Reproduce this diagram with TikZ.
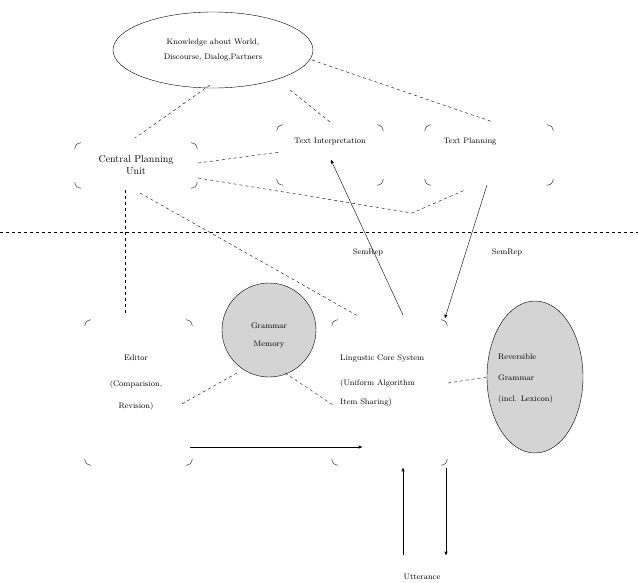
\documentclass[tikz,border=0pt]{standalone}
\usetikzlibrary{calc,positioning,arrows,shapes.geometric}
\tikzset{
	unit/.style={inner sep=0pt, align=center, font=\footnotesize},
	blob/.style={ellipse, draw, fill=black!17, inner sep=0pt},
	link/.style={dashed, thin},
	flow/.style={->, >=stealth', thin}
}
% draws only the four rounded corners of a box node
\newcommand{\corners}[1]{%
	\draw ($(#1.north west)+(0,-6)$) arc[start angle=180,end angle=90,radius=6];
	\draw ($(#1.north east)+(-6,0)$) arc[start angle=90,end angle=0,radius=6];
	\draw ($(#1.south east)+(0,6)$) arc[start angle=0,end angle=-90,radius=6];
	\draw ($(#1.south west)+(6,0)$) arc[start angle=-90,end angle=-180,radius=6];
}
\begin{document}
\begin{tikzpicture}[x=1pt,y=1pt]
	\useasboundingbox (0,0) rectangle (638,-582);
	%Boxes
	%===========================================================
	\node[unit, minimum width=122, minimum height=45, font=\normalsize] (cpu) at (136,-165.5) {Central Planning\\Unit};
	\node[unit, minimum width=106, minimum height=60] (interp) at (330,-155) {};
	\node[unit, minimum width=128, minimum height=60] (plan) at (489,-155) {};
	\node[unit, minimum width=107, minimum height=145] (editor) at (138.5,-392.5) {};
	\node[unit, minimum width=115, minimum height=145] (core) at (389.5,-392.5) {};
	\corners{cpu} \corners{interp} \corners{plan} \corners{editor} \corners{core}
	\node[unit] at (330,-142) {Text Interpretation};
	\node[unit] at (470,-142) {Text Planning};
	\node[unit] at (136,-358) {Editor};
	\node[unit] at (136,-384) {(Comparision,};
	\node[unit] at (136,-406) {Revision)};
	\node[unit, anchor=west] at (340,-358) {Lingustic Core System};
	\node[unit, anchor=west] at (340,-383) {(Uniform Algorithm};
	\node[unit, anchor=west] at (340,-402) {Item Sharing)};
	
	%Ellipses
	\node[ellipse, draw, minimum width=200, minimum height=76, unit] (know) at (213,-50) {Knowledge about World,\\[6pt]Discourse, Dialog,Partners};
	\node[blob, minimum width=94, minimum height=94] (gmem) at (269,-330) {};
	\node[unit] at (269,-326) {Grammar}; \node[unit] at (269,-345) {Memory};
	\node[blob, minimum width=96, minimum height=152] (revg) at (535,-377) {};
	\node[unit, anchor=west] at (498,-357) {Reversible};
	\node[unit, anchor=west] at (498,-378) {Grammar};
	\node[unit, anchor=west] at (498,-399) {(incl. Lexicon)};
	
	%Separator
	\draw[link] (0,-232) -- (638,-232);
	
	%Dashed links
	\coordinate (kink) at (412,-213);
	\draw[link] (210,-85) -- (135,-138);
	\draw[link] (290,-90) -- (330,-122);
	\draw[link] (312,-60) -- (493,-122);
	\draw[link] (198,-163) -- (280,-152);
	\draw[link] (198,-178) -- (kink) -- (465,-190);
	\draw[link] (125,-190) -- (125,-313);
	\draw[link] (140,-193) -- (358,-316);
	\draw[link] (237,-373) -- (180,-405);
	\draw[link] (285,-373) -- (333,-405);
	\draw[link] (448,-383) -- (revg.west);
	
	%Arrows
	\draw[flow] (403,-315) -- (331,-160);
	\draw[flow] (487,-185) -- (445,-318);
	\draw[flow] (190,-447) -- (362,-447);
	\draw[flow] (403,-555) -- (403,-468);
	\draw[flow] (446,-468) -- (446,-555);
	\node[unit] at (368,-252) {SemRep};
	\node[unit] at (507,-252) {SemRep};
	\node[unit] at (422,-577) {Utterance};
\end{tikzpicture}
\end{document}
